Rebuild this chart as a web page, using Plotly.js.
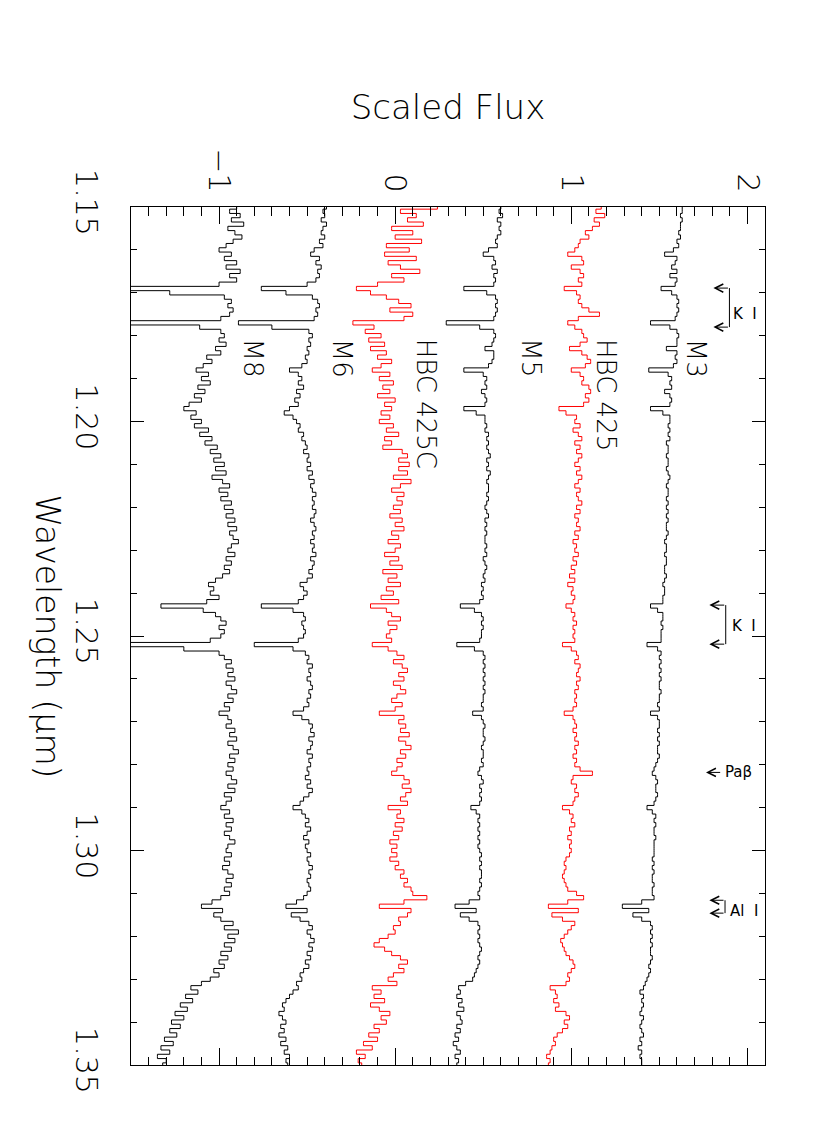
<!DOCTYPE html>
<html><head><meta charset="utf-8">
<script src="https://cdn.plot.ly/plotly-3.0.1.min.js"></script>
<style>html,body{margin:0;padding:0;background:#fff;overflow:hidden}</style>
</head><body><div id="chart" style="width:830px;height:1127px"></div>
<script>
// Wavelength grid (micron)
const wave = [
1.150,1.151,1.152,1.153,1.154,1.155,1.156,1.157,1.158,1.159,
1.160,1.161,1.162,1.163,1.164,1.165,1.166,1.167,1.168,1.169,
1.170,1.171,1.172,1.173,1.174,1.175,1.176,1.177,1.178,1.179,
1.180,1.181,1.182,1.183,1.184,1.185,1.186,1.187,1.188,1.189,
1.190,1.191,1.192,1.193,1.194,1.195,1.196,1.197,1.198,1.199,
1.200,1.201,1.202,1.203,1.204,1.205,1.206,1.207,1.208,1.209,
1.210,1.211,1.212,1.213,1.214,1.215,1.216,1.217,1.218,1.219,
1.220,1.221,1.222,1.223,1.224,1.225,1.226,1.227,1.228,1.229,
1.230,1.231,1.232,1.233,1.234,1.235,1.236,1.237,1.238,1.239,
1.240,1.241,1.242,1.243,1.244,1.245,1.246,1.247,1.248,1.249,
1.250,1.251,1.252,1.253,1.254,1.255,1.256,1.257,1.258,1.259,
1.260,1.261,1.262,1.263,1.264,1.265,1.266,1.267,1.268,1.269,
1.270,1.271,1.272,1.273,1.274,1.275,1.276,1.277,1.278,1.279,
1.280,1.281,1.282,1.283,1.284,1.285,1.286,1.287,1.288,1.289,
1.290,1.291,1.292,1.293,1.294,1.295,1.296,1.297,1.298,1.299,
1.300,1.301,1.302,1.303,1.304,1.305,1.306,1.307,1.308,1.309,
1.310,1.311,1.312,1.313,1.314,1.315,1.316,1.317,1.318,1.319,
1.320,1.321,1.322,1.323,1.324,1.325,1.326,1.327,1.328,1.329,
1.330,1.331,1.332,1.333,1.334,1.335,1.336,1.337,1.338,1.339,
1.340,1.341,1.342,1.343,1.344,1.345,1.346,1.347,1.348,1.349,
1.350];

const fluxM3 = [
1.63,1.63,1.62,1.63,1.62,1.62,1.61,1.62,1.60,1.61,
1.58,1.53,1.60,1.59,1.57,1.60,1.56,1.60,1.59,1.51,
1.57,1.60,1.61,1.60,1.61,1.60,1.59,1.45,1.56,1.60,
1.61,1.60,1.60,1.54,1.60,1.59,1.60,1.58,1.44,1.55,
1.57,1.56,1.57,1.53,1.56,1.57,1.56,1.45,1.52,1.56,
1.56,1.55,1.56,1.55,1.56,1.54,1.55,1.55,1.54,1.55,
1.55,1.54,1.55,1.56,1.55,1.54,1.55,1.55,1.54,1.55,
1.54,1.55,1.54,1.55,1.54,1.54,1.55,1.54,1.53,1.54,
1.54,1.53,1.54,1.54,1.53,1.53,1.54,1.53,1.52,1.53,
1.53,1.52,1.52,1.45,1.49,1.52,1.52,1.51,1.52,1.51,
1.51,1.51,1.43,1.49,1.51,1.50,1.51,1.50,1.51,1.50,
1.51,1.50,1.50,1.51,1.50,1.50,1.49,1.50,1.45,1.49,
1.50,1.50,1.49,1.50,1.49,1.50,1.49,1.49,1.50,1.49,
1.48,1.47,1.46,1.48,1.49,1.48,1.48,1.49,1.48,1.47,
1.43,1.46,1.48,1.47,1.48,1.47,1.47,1.48,1.47,1.47,
1.47,1.47,1.46,1.47,1.46,1.47,1.46,1.46,1.47,1.46,
1.46,1.47,1.40,1.29,1.44,1.35,1.40,1.45,1.46,1.45,
1.46,1.45,1.46,1.45,1.45,1.46,1.45,1.44,1.45,1.44,
1.43,1.42,1.41,1.39,1.41,1.40,1.41,1.40,1.39,1.41,
1.40,1.39,1.40,1.41,1.39,1.40,1.38,1.40,1.39,1.40,
1.40];

const fluxHBC425 = [
1.17,1.14,1.19,1.13,1.16,1.12,1.08,1.10,1.05,1.04,
1.02,0.98,1.06,1.07,1.00,1.05,1.07,1.04,1.06,0.96,
1.03,1.05,1.04,1.06,1.10,1.16,1.04,0.98,1.02,1.06,
1.07,1.09,1.05,0.99,1.06,1.09,1.11,1.08,1.00,1.05,
1.07,1.06,1.10,1.11,1.08,1.10,1.07,0.93,0.97,1.03,
1.02,1.05,1.01,1.04,1.06,1.02,1.05,1.03,1.06,1.04,
1.02,1.05,1.03,1.06,1.04,1.02,1.05,1.03,1.04,1.06,
1.03,1.05,1.02,1.04,1.03,1.05,1.02,1.04,1.01,1.03,
1.02,1.04,1.01,1.03,1.00,1.02,0.99,1.02,0.98,1.01,
1.00,1.02,1.01,0.97,1.00,1.02,1.01,1.03,1.01,1.02,
1.01,1.02,0.95,1.00,1.03,1.04,1.02,1.05,1.04,1.03,
1.05,1.03,1.04,1.02,1.03,1.02,1.03,1.01,0.96,1.01,
1.02,1.03,1.01,1.03,1.02,1.04,1.02,1.03,1.01,1.03,
1.02,1.05,1.12,1.01,1.00,1.03,1.02,1.04,1.02,1.01,
0.95,0.99,1.01,1.00,1.02,0.99,1.00,0.98,1.00,0.99,
1.00,0.99,0.97,0.96,0.97,0.96,0.95,0.96,0.97,0.98,
1.03,1.07,0.98,0.87,1.04,0.89,0.95,1.02,1.00,0.98,
0.96,0.94,0.95,0.96,0.97,0.99,1.01,1.02,1.00,0.98,
0.99,0.97,0.88,0.91,0.92,0.90,0.93,0.91,0.97,0.99,
0.96,0.98,0.95,0.92,0.90,0.91,0.89,0.88,0.86,0.88,
0.87];

const fluxM5 = [
0.60,0.59,0.61,0.58,0.60,0.59,0.60,0.58,0.57,0.58,
0.53,0.50,0.56,0.57,0.55,0.58,0.56,0.57,0.56,0.39,
0.52,0.57,0.58,0.57,0.58,0.57,0.56,0.29,0.48,0.56,
0.57,0.56,0.55,0.51,0.56,0.56,0.55,0.53,0.39,0.50,
0.52,0.51,0.52,0.49,0.51,0.52,0.51,0.39,0.46,0.51,
0.51,0.52,0.51,0.53,0.52,0.53,0.52,0.53,0.54,0.52,
0.53,0.52,0.54,0.53,0.52,0.53,0.53,0.52,0.53,0.52,
0.51,0.52,0.53,0.51,0.52,0.51,0.52,0.51,0.51,0.52,
0.51,0.52,0.50,0.51,0.52,0.51,0.50,0.51,0.49,0.50,
0.49,0.50,0.48,0.37,0.45,0.49,0.50,0.49,0.50,0.49,
0.49,0.48,0.35,0.45,0.50,0.51,0.50,0.51,0.50,0.51,
0.50,0.51,0.50,0.51,0.50,0.50,0.49,0.50,0.44,0.49,
0.50,0.51,0.50,0.50,0.51,0.50,0.49,0.50,0.50,0.49,
0.50,0.48,0.47,0.49,0.50,0.48,0.49,0.48,0.49,0.48,
0.43,0.46,0.48,0.47,0.48,0.47,0.48,0.47,0.48,0.47,
0.48,0.49,0.48,0.49,0.48,0.49,0.49,0.48,0.49,0.48,
0.47,0.48,0.42,0.34,0.46,0.37,0.42,0.47,0.48,0.47,
0.48,0.47,0.48,0.49,0.48,0.47,0.48,0.47,0.46,0.45,
0.44,0.40,0.36,0.37,0.35,0.38,0.36,0.39,0.35,0.37,
0.38,0.35,0.37,0.34,0.36,0.33,0.35,0.37,0.34,0.36,
0.35];

const fluxHBC425C = [
0.24,0.03,0.12,0.07,0.16,-0.02,0.10,0.00,0.15,-0.05,
0.08,-0.06,0.12,-0.04,0.03,0.14,-0.02,0.05,-0.10,-0.22,
-0.14,-0.05,0.02,0.09,-0.03,0.10,0.05,-0.24,-0.12,-0.17,
-0.08,-0.15,-0.06,-0.14,-0.05,-0.10,-0.02,-0.08,-0.13,-0.03,
-0.09,-0.01,-0.07,-0.03,-0.10,0.00,-0.06,-0.02,-0.08,-0.03,
-0.09,-0.01,-0.05,0.02,-0.06,-0.02,-0.07,0.04,0.07,0.02,
0.08,0.02,0.07,-0.01,0.09,0.03,-0.02,0.05,0.01,0.04,
-0.01,0.03,-0.03,0.04,0.00,0.05,-0.02,0.02,-0.04,0.03,
0.00,-0.06,0.02,-0.03,0.04,-0.07,0.01,-0.04,0.03,-0.05,
-0.01,-0.08,0.02,-0.14,-0.05,-0.02,0.03,-0.04,0.01,-0.03,
-0.05,-0.02,-0.13,-0.04,0.01,0.05,-0.01,0.04,0.07,0.02,
0.05,-0.01,0.03,0.06,0.01,-0.02,0.04,0.00,-0.09,0.05,
0.02,0.06,0.03,0.08,0.02,0.06,0.09,0.03,0.06,0.01,
0.04,0.01,-0.02,0.05,0.08,0.04,0.09,0.06,0.03,0.07,
-0.04,0.03,0.01,0.05,0.00,0.04,-0.01,0.02,-0.03,0.01,
-0.02,0.01,-0.03,0.02,0.00,0.05,0.03,0.07,0.05,0.09,
0.10,0.18,0.05,-0.09,0.09,0.07,0.02,0.03,-0.01,0.00,
-0.04,-0.09,-0.12,-0.06,-0.02,0.03,0.07,0.02,0.05,-0.01,
-0.04,0.01,-0.13,-0.08,-0.12,-0.06,-0.14,-0.09,-0.03,-0.08,
-0.05,-0.12,-0.09,-0.15,-0.10,-0.18,-0.13,-0.22,-0.17,-0.21,
-0.19];

const fluxM6 = [
-0.39,-0.41,-0.40,-0.42,-0.39,-0.41,-0.42,-0.40,-0.43,-0.41,
-0.46,-0.48,-0.43,-0.45,-0.42,-0.44,-0.43,-0.45,-0.50,-0.76,
-0.62,-0.47,-0.44,-0.43,-0.45,-0.44,-0.46,-0.89,-0.70,-0.49,
-0.47,-0.49,-0.48,-0.50,-0.49,-0.51,-0.50,-0.53,-0.60,-0.55,
-0.53,-0.55,-0.52,-0.56,-0.54,-0.57,-0.55,-0.60,-0.63,-0.58,
-0.56,-0.54,-0.55,-0.52,-0.53,-0.51,-0.50,-0.52,-0.49,-0.50,
-0.48,-0.50,-0.47,-0.49,-0.46,-0.48,-0.47,-0.45,-0.47,-0.46,
-0.47,-0.45,-0.46,-0.48,-0.46,-0.45,-0.47,-0.46,-0.48,-0.46,
-0.47,-0.45,-0.48,-0.46,-0.47,-0.49,-0.47,-0.50,-0.54,-0.52,
-0.50,-0.52,-0.55,-0.76,-0.58,-0.52,-0.51,-0.53,-0.52,-0.51,
-0.52,-0.55,-0.80,-0.58,-0.51,-0.49,-0.50,-0.47,-0.49,-0.48,
-0.50,-0.48,-0.47,-0.49,-0.48,-0.50,-0.49,-0.52,-0.58,-0.53,
-0.49,-0.47,-0.48,-0.46,-0.49,-0.47,-0.48,-0.50,-0.47,-0.49,
-0.48,-0.50,-0.49,-0.51,-0.48,-0.50,-0.47,-0.49,-0.52,-0.54,
-0.58,-0.53,-0.51,-0.49,-0.51,-0.48,-0.50,-0.52,-0.49,-0.51,
-0.50,-0.48,-0.50,-0.49,-0.47,-0.49,-0.48,-0.50,-0.49,-0.48,
-0.50,-0.52,-0.56,-0.62,-0.50,-0.59,-0.54,-0.49,-0.47,-0.50,
-0.48,-0.46,-0.49,-0.47,-0.50,-0.48,-0.51,-0.49,-0.52,-0.54,
-0.53,-0.56,-0.55,-0.58,-0.60,-0.62,-0.64,-0.63,-0.66,-0.64,
-0.62,-0.65,-0.63,-0.66,-0.62,-0.65,-0.61,-0.63,-0.60,-0.62,
-0.61];

const fluxM8 = [
-0.90,-0.94,-0.88,-0.93,-0.86,-0.95,-0.91,-0.87,-0.92,-0.96,
-1.00,-0.93,-0.97,-0.90,-0.96,-0.88,-0.94,-0.90,-1.00,-1.55,
-1.28,-0.97,-0.93,-0.95,-0.92,-0.94,-0.99,-1.55,-1.11,-0.99,
-0.97,-1.00,-0.96,-1.02,-0.99,-1.07,-1.04,-1.09,-1.13,-1.06,
-1.10,-1.05,-1.12,-1.08,-1.14,-1.10,-1.17,-1.20,-1.13,-1.16,
-1.10,-1.14,-1.06,-1.11,-1.04,-1.08,-1.01,-1.05,-0.99,-1.03,
-0.97,-1.02,-0.96,-1.04,-0.98,-0.94,-1.00,-0.95,-0.99,-0.93,
-0.97,-0.92,-0.96,-0.91,-0.95,-0.90,-0.94,-0.92,-0.89,-0.93,
-0.95,-0.91,-0.96,-0.93,-0.97,-0.94,-0.98,-1.02,-1.06,-1.03,
-1.05,-1.00,-1.07,-1.33,-1.09,-1.02,-0.99,-0.96,-1.00,-0.97,
-0.99,-1.05,-1.55,-1.20,-1.00,-0.97,-0.93,-0.96,-0.92,-0.95,
-0.91,-0.96,-0.93,-0.90,-0.95,-0.92,-0.97,-0.94,-1.00,-0.95,
-0.93,-0.96,-0.91,-0.94,-0.90,-0.95,-0.92,-0.89,-0.94,-0.91,
-0.95,-0.92,-0.96,-0.93,-0.90,-0.95,-0.91,-0.97,-0.93,-0.96,
-0.99,-0.94,-0.97,-0.92,-0.96,-0.93,-0.97,-0.94,-0.91,-0.95,
-0.96,-0.93,-0.97,-0.94,-0.98,-0.95,-0.92,-0.96,-0.93,-0.97,
-0.94,-0.99,-1.04,-1.10,-0.98,-1.03,-0.99,-0.92,-0.97,-0.89,
-0.95,-0.91,-0.97,-0.93,-0.99,-0.95,-1.00,-0.97,-1.03,-1.00,
-1.05,-1.10,-1.16,-1.12,-1.19,-1.15,-1.22,-1.18,-1.25,-1.20,
-1.27,-1.22,-1.28,-1.24,-1.31,-1.26,-1.33,-1.28,-1.35,-1.30,
-1.32];

const seriesNames = ['M3', 'HBC 425', 'M5', 'HBC 425C', 'M6', 'M8'];
const seriesFlux = [fluxM3, fluxHBC425, fluxM5, fluxHBC425C, fluxM6, fluxM8];
const seriesColors = ['#000000', '#ff0000', '#000000', '#ff0000', '#000000', '#000000'];

const fluxTickVals = [-1, 0, 1, 2];
const fluxTickText = ['\u22121', '0', '1', '2'];
const waveTickVals = [1.15, 1.20, 1.25, 1.30, 1.35];
const waveTickText = ['1.15', '1.20', '1.25', '1.30', '1.35'];

// Spectral line markers
const markLabels = ['K\u00a0\u00a0I', 'K\u00a0\u00a0I', 'Pa\u03b2', 'Al\u00a0\u00a0I'];
const markWaveA = [1.1689, 1.2428, 1.2818, 1.3116];
const markWaveB = [1.1780, 1.2519, null, 1.3146];
const markTextWave = [1.1750, 1.2476, 1.2818, 1.3140];

// ---- layout helpers (positions / styling) ----
const FONT = 'DejaVu Sans, Liberation Sans, sans-serif';
const labelFlux = [1.71, 1.20, 0.77, 0.18, -0.30, -0.81];
const labelTopWave = 1.1802;
const markTip = [1.807, 1.784, 1.765, 1.784];
const markBar = [1.898, 1.877, 1.854, 1.873];
const markText = [1.905, 1.90, 1.86, 1.892];

const traces = seriesNames.map((name, i) => ({
  type: 'scatter', mode: 'lines', name: name,
  x: seriesFlux[i], y: wave,
  line: {color: seriesColors[i], width: 1, shape: 'vhv'},
  hoverinfo: 'skip', showlegend: false
}));

const annotations = [];
const shapes = [];
seriesNames.forEach((name, i) => {
  annotations.push({
    x: labelFlux[i], y: labelTopWave, xref: 'x', yref: 'y',
    text: name, textangle: 90, xanchor: 'center', yanchor: 'top',
    showarrow: false, font: {family: FONT, size: 26, color: '#000', weight: 200}
  });
});
markLabels.forEach((lab, i) => {
  const ws = [markWaveA[i], markWaveB[i]].filter(w => w !== null);
  ws.forEach(w => {
    annotations.push({
      x: markTip[i], y: w, ax: markBar[i], ay: w,
      xref: 'x', yref: 'y', axref: 'x', ayref: 'y',
      text: '', showarrow: true, arrowhead: 5, arrowsize: 1.6, arrowwidth: 1,
      arrowcolor: '#000', standoff: 0, startstandoff: 0
    });
  });
  if (ws.length > 1) {
    shapes.push({type: 'line', xref: 'x', yref: 'y', x0: markBar[i], x1: markBar[i],
      y0: ws[0], y1: ws[1], line: {color: '#000', width: 1}});
  }
  annotations.push({
    x: markText[i], y: markTextWave[i], xref: 'x', yref: 'y',
    text: lab, xanchor: 'left', yanchor: 'middle', showarrow: false,
    font: {family: FONT, size: 15, color: '#000', weight: 'normal'}
  });
});
annotations.push({
  xref: 'paper', yref: 'paper', x: -0.1317, y: 0.5,
  xanchor: 'center', yanchor: 'middle', textangle: 90, showarrow: false,
  text: 'Wavelength (\u03bcm)', font: {family: FONT, size: 33, color: '#000', weight: 200}
});

const layout = {
  width: 830, height: 1127,
  margin: {l: 131, r: 65, t: 207, b: 62},
  paper_bgcolor: '#fff', plot_bgcolor: '#fff',
  font: {family: FONT, color: '#000'},
  showlegend: false,
  xaxis: {
    range: [-1.5, 2.1], side: 'top',
    tickmode: 'array', tickvals: fluxTickVals, ticktext: fluxTickText,
    tickangle: 90, tickfont: {family: FONT, size: 30, weight: 200},
    ticks: 'inside', ticklen: 17, tickwidth: 1, tickcolor: '#000',
    ticklabelstandoff: 3,
    minor: {tickmode: 'linear', tick0: 0, dtick: 0.1, ticks: 'inside', ticklen: 8.5, tickwidth: 1, tickcolor: '#000', showgrid: false},
    showline: true, linecolor: '#000', linewidth: 1, mirror: 'ticks',
    showgrid: false, zeroline: false,
    title: {text: 'Scaled Flux', font: {family: FONT, size: 34, weight: 200}, standoff: 18}
  },
  yaxis: {
    range: [1.35, 1.15],
    tickmode: 'array', tickvals: waveTickVals, ticktext: waveTickText,
    tickangle: 90, tickfont: {family: FONT, size: 30, weight: 200},
    ticks: 'inside', ticklen: 12.7, tickwidth: 1, tickcolor: '#000',
    ticklabelstandoff: 18,
    minor: {tickmode: 'linear', tick0: 1.15, dtick: 0.01, ticks: 'inside', ticklen: 6.3, tickwidth: 1, tickcolor: '#000', showgrid: false},
    showline: true, linecolor: '#000', linewidth: 1, mirror: 'ticks',
    showgrid: false, zeroline: false
  },
  annotations: annotations,
  shapes: shapes
};

Plotly.newPlot('chart', traces, layout, {displayModeBar: false, staticPlot: true});
</script>
</body></html>
